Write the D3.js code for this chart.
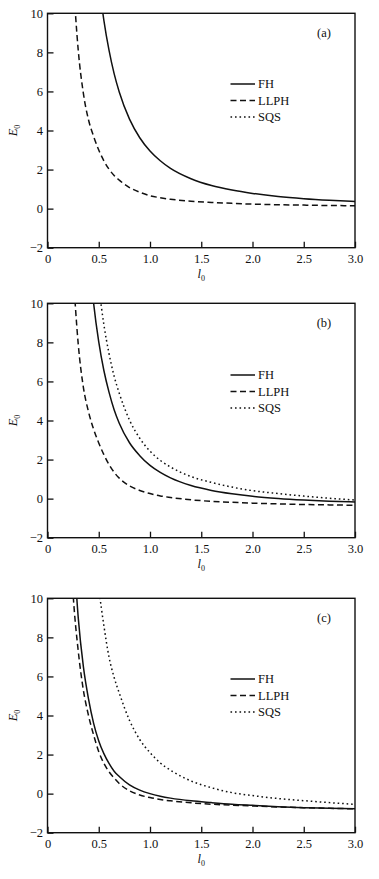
<!DOCTYPE html>
<html>
<head>
<meta charset="utf-8">
<script src="https://cdn.jsdelivr.net/npm/d3@7"></script>
<style>
  html, body { margin: 0; padding: 0; background: #fff; }
  svg { display: block; }
  text { font-family: "Liberation Serif", "Times New Roman", Times, serif; fill: #111; }
</style>
</head>
<body>
<svg id="chart" width="379" height="879"></svg>
<script>
// ---- data ----
const lGrid = [0.22,0.25,0.3,0.35,0.4,0.45,0.5,0.55,0.6,0.65,0.7,0.8,0.9,1.0,1.1,1.2,1.4,1.6,1.8,2.0,2.25,2.5,2.75,3.0];
const seriesNames = ["FH", "LLPH", "SQS"];
const panelLabels = ["(a)", "(b)", "(c)"];
const xTicks = [0, 0.5, 1.0, 1.5, 2.0, 2.5, 3.0];
const xTickLabels = ["0", "0.5", "1.0", "1.5", "2.0", "2.5", "3.0"];
const yTicks = [-2, 0, 2, 4, 6, 8, 10];
const yTickLabels = ["\u22122", "0", "2", "4", "6", "8", "10"];

const FH_a   = [null,null,null,null,null,null,11.65,9.64,8.11,6.91,5.97,4.58,3.63,2.95,2.45,2.06,1.53,1.18,0.95,0.78,0.62,0.51,0.43,0.37];
const LLPH_a = [null,11.8,8.1,5.9,4.55,3.7,3.0,2.45,2.02,1.70,1.46,1.08,0.84,0.66,0.56,0.48,0.38,0.32,0.27,0.23,0.20,0.18,0.16,0.15];
const SQS_a  = [];

const FH_b   = [null,null,null,null,12.8,10.0,8.02,6.56,5.45,4.55,3.86,2.86,2.2,1.70,1.34,1.06,0.67,0.42,0.25,0.12,0.01,-0.07,-0.13,-0.17];
const LLPH_b = [null,11.6,7.9,5.7,4.45,3.55,2.85,2.25,1.75,1.35,1.05,0.65,0.42,0.26,0.14,0.06,-0.06,-0.14,-0.19,-0.23,-0.27,-0.30,-0.32,-0.34];
const SQS_b  = [null,null,null,null,null,null,10.86,8.91,7.43,6.27,5.4,4.02,3.09,2.43,1.96,1.62,1.13,0.83,0.59,0.41,0.26,0.13,0.02,-0.07];

const FH_c   = [null,13.0,9.0,6.5,4.85,3.6,2.7,2.05,1.55,1.15,0.88,0.45,0.18,0.0,-0.13,-0.23,-0.37,-0.46,-0.54,-0.60,-0.67,-0.72,-0.75,-0.78];
const LLPH_c = [13.0,10.2,7.3,5.3,4.0,3.0,2.15,1.55,1.12,0.8,0.52,0.15,-0.07,-0.2,-0.3,-0.37,-0.47,-0.54,-0.59,-0.63,-0.68,-0.72,-0.75,-0.78];
const SQS_c  = [null,null,null,null,null,null,10.5,8.6,7.0,5.95,5.15,3.75,2.77,2.1,1.57,1.2,0.65,0.3,0.05,-0.1,-0.25,-0.36,-0.46,-0.55];

const panelSeries = [
  [FH_a, LLPH_a, SQS_a],
  [FH_b, LLPH_b, SQS_b],
  [FH_c, LLPH_c, SQS_c]
];

// ---- layout / style ----
const plotLeft = 47.5, plotRight = 355;
const panelTops = [13.3, 303.3, 598.3];
const plotH = 234.4;
const legendOffsets = [70.7, 71.7, 80.7];
const dashes = [null, "6,3.5", "1.6,2.9"];
const fontSize = "12.5px";

const svg = d3.select("#chart");
const x = d3.scaleLinear().domain([0, 3]).range([plotLeft, plotRight]);

panelSeries.forEach((series, p) => {
  const top = panelTops[p], bottom = top + plotH;
  const y = d3.scaleLinear().domain([-2, 10]).range([bottom, top]);
  const g = svg.append("g");

  const clipId = "clip" + p;
  svg.append("clipPath").attr("id", clipId)
    .append("rect").attr("x", plotLeft).attr("y", top)
    .attr("width", plotRight - plotLeft).attr("height", plotH);

  // axes with inward ticks
  const xAxis = d3.axisBottom(x).tickValues(xTicks).tickSize(-6).tickPadding(6)
    .tickFormat((d, i) => xTickLabels[i]);
  const yAxis = d3.axisLeft(y).tickValues(yTicks).tickSize(-6).tickPadding(4.5)
    .tickFormat((d, i) => yTickLabels[i]);

  const gx = g.append("g").attr("transform", `translate(0,${bottom})`).call(xAxis);
  const gy = g.append("g").attr("transform", `translate(${plotLeft},0)`).call(yAxis);
  [gx, gy].forEach(a => {
    a.select(".domain").remove();
    a.selectAll(".tick line").attr("stroke", "#111").attr("stroke-width", 1.3);
    a.selectAll(".tick text").style("font-size", fontSize).attr("fill", "#111")
      .style("font-family", '"Liberation Serif", "Times New Roman", serif');
  });

  // frame
  g.append("rect").attr("x", plotLeft).attr("y", top)
    .attr("width", plotRight - plotLeft).attr("height", plotH)
    .attr("fill", "none").attr("stroke", "#111").attr("stroke-width", 1.4);

  // curves
  const line = d3.line()
    .defined(d => d.v !== null && d.v !== undefined)
    .x(d => x(d.l)).y(d => y(d.v))
    .curve(d3.curveMonotoneX);

  series.forEach((vals, s) => {
    if (!vals.length) return;
    const pts = lGrid.map((l, i) => ({ l, v: vals[i] }));
    g.append("path").datum(pts)
      .attr("clip-path", `url(#${clipId})`)
      .attr("d", line)
      .attr("fill", "none").attr("stroke", "#111")
      .attr("stroke-width", 1.5)
      .attr("stroke-dasharray", dashes[s]);
  });

  // panel label
  g.append("text").attr("x", 324).attr("y", top + 24)
    .attr("text-anchor", "middle").style("font-size", fontSize).text(panelLabels[p]);

  // legend
  seriesNames.forEach((name, s) => {
    const ly = top + legendOffsets[p] + s * 16.5;
    g.append("line").attr("x1", 230.5).attr("x2", 255).attr("y1", ly).attr("y2", ly)
      .attr("stroke", "#111").attr("stroke-width", 1.5)
      .attr("stroke-dasharray", dashes[s]);
    g.append("text").attr("x", 258).attr("y", ly + 4.3)
      .style("font-size", fontSize).text(name);
  });

  // y label E0
  const yl = g.append("text")
    .attr("transform", `translate(17,${(top + bottom) / 2}) rotate(-90)`)
    .attr("text-anchor", "middle").style("font-size", fontSize);
  yl.append("tspan").style("font-style", "italic").text("E");
  yl.append("tspan").attr("dy", "3").style("font-size", "8px").text("0");

  // x label l0
  const xl = g.append("text")
    .attr("x", (plotLeft + plotRight) / 2).attr("y", bottom + 30)
    .attr("text-anchor", "middle").style("font-size", fontSize);
  xl.append("tspan").style("font-style", "italic").text("l");
  xl.append("tspan").attr("dy", "3").style("font-size", "8px").text("0");
});
</script>
</body>
</html>
